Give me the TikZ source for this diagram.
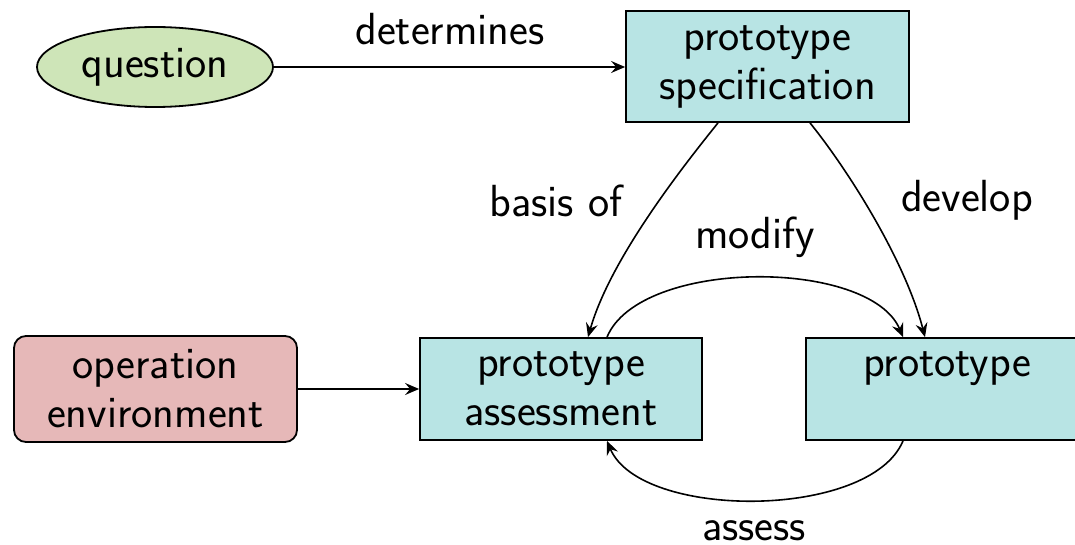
\documentclass[tikz,border=0pt]{standalone}
\usepackage{fontspec}
\usetikzlibrary{shapes.geometric,arrows.meta}

\definecolor{boxcyan}{RGB}{184,228,228}
\definecolor{qgreen}{RGB}{206,229,184}
\definecolor{envred}{RGB}{230,184,184}

\tikzset{
  base/.style={draw=black, line width=0.9pt, align=center, inner sep=0pt,
    font=\sffamily\fontsize{22.5}{24.5}\selectfont},
  procbox/.style={base, rectangle, fill=boxcyan},
  qnode/.style={base, ellipse, fill=qgreen, minimum width=118pt, minimum height=40pt},
  envbox/.style={base, rectangle, rounded corners=6pt, fill=envred},
  lbl/.style={anchor=base, font=\sffamily\fontsize{22.5}{24.5}\selectfont},
  conn/.style={line width=0.8pt, -{Stealth[length=7pt,width=6pt,inset=2.5pt]}}
}

\begin{document}
\begin{tikzpicture}[x=0.5pt,y=-0.5pt]
\useasboundingbox (0,0) rectangle (1075,545);
\clip (0,0) rectangle (1075,545);

% nodes
\node[qnode] (q) at (155,67) {question};
\node[procbox, minimum width=141.5pt, minimum height=55.5pt] (spec) at (767.5,66.5) {prototype\\specification};
\node[envbox, minimum width=141.5pt, minimum height=53pt] (env) at (155.5,389) {operation\\environment};
\node[procbox, minimum width=141pt, minimum height=51pt] (assess) at (561,389) {prototype\\assessment};
\node[procbox, minimum width=141pt, minimum height=51pt] (proto) at (947,389) {prototype\\\phantom{t}};

% anchors on the box borders
\coordinate (specL) at ([xshift=-24.75pt]spec.south);
\coordinate (specR) at ([xshift=21.25pt]spec.south);
\coordinate (asTopL) at ([xshift=13.5pt]assess.north);
\coordinate (asTopR) at ([xshift=23pt]assess.north);
\coordinate (asBot) at ([xshift=23pt]assess.south);
\coordinate (prTopL) at ([xshift=-22pt]proto.north);
\coordinate (prTopR) at ([xshift=-11pt]proto.north);
\coordinate (prBot) at ([xshift=-22pt]proto.south);

% connectors
\draw[conn] (q.east) -- (q.east -| spec.west);
\draw[conn] (env.east) -- (env.east -| assess.west);
\draw[conn] (specL) .. controls (680,170) and (610,260) .. (asTopL);
\draw[conn] (specR) .. controls (848,170) and (905,260) .. (prTopR);
\draw[conn] (asTopR) .. controls (640,258) and (870,258) .. (prTopL);
\draw[conn] (prBot) .. controls (870,520) and (640,520) .. (asBot);

% labels
\node[lbl] (ldet) at (450,45) {determines};
\node[lbl] (lbasis) at (556,217) {basis of};
\node[lbl] (ldev) at (967,212) {develop};
\node[lbl] (lmod) at (755,249) {modify};
\node[lbl] (lass) at (754,540) {assess};
\end{tikzpicture}
\end{document}
